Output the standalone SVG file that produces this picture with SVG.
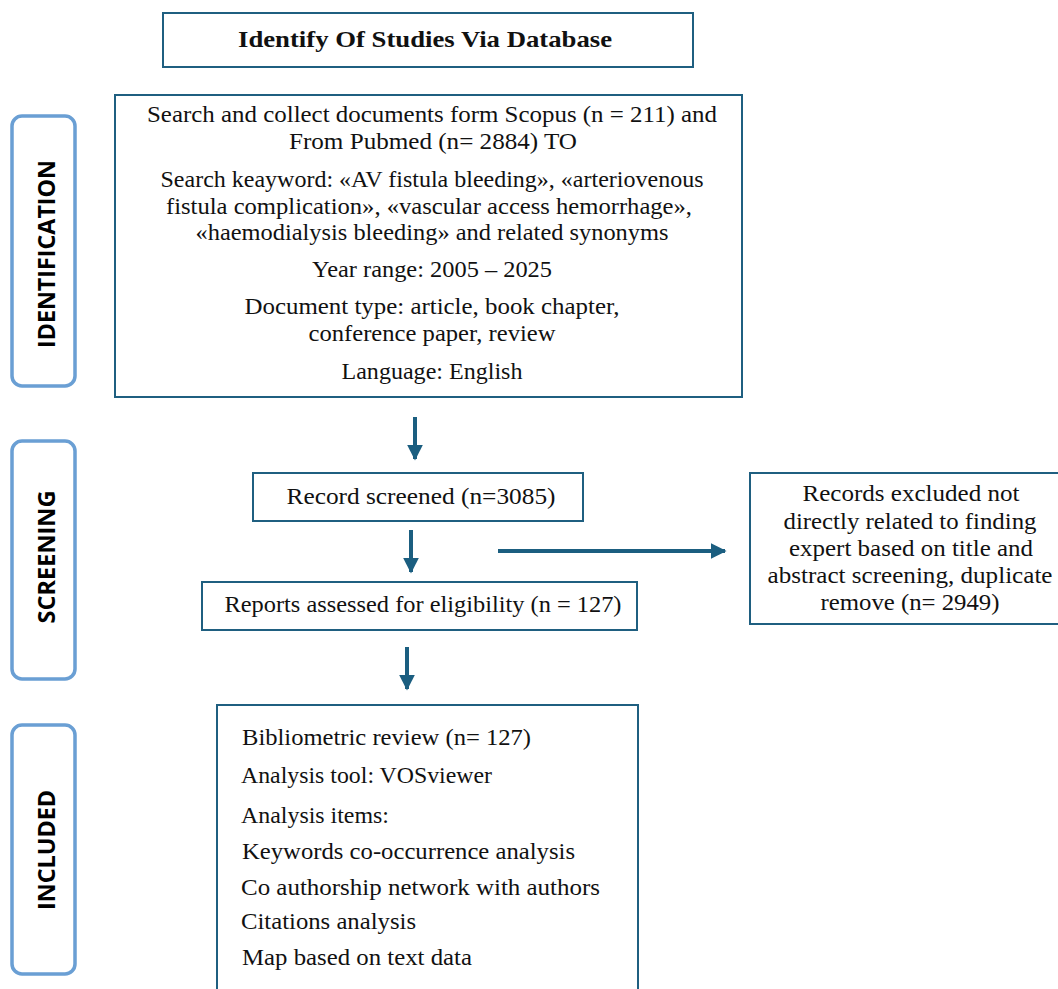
<svg xmlns="http://www.w3.org/2000/svg" width="1058" height="989" viewBox="0 0 1058 989">
<defs>
<style>
.box{fill:#fff;stroke:#1f5f80;stroke-width:2}
.tab{fill:#fff;stroke:#6a9fd4;stroke-width:3.5}
.t{font-family:"Liberation Serif","Times New Roman",serif;font-size:22.5px;fill:#111}
.c{text-anchor:middle}
.tt{font-family:"Open Sans","DejaVu Sans",sans-serif;font-weight:bold;font-size:23px;fill:#000;text-anchor:middle}
.ar{stroke:#1b5e80;stroke-width:4;fill:none}
</style>
<marker id="ah" viewBox="0 0 10 10" refX="9" refY="5" markerWidth="4" markerHeight="4" markerUnits="strokeWidth" orient="auto">
<path d="M0,0 L10,5 L0,10 z" fill="#1b5e80"/>
</marker>
</defs>
<rect width="1058" height="989" fill="#fff"/>

<g id="tab-identification">
<rect class="tab" x="12" y="116" width="63" height="270" rx="10"/>
<text class="tt" transform="translate(55,254) rotate(-90)" textLength="188" lengthAdjust="spacingAndGlyphs">IDENTIFICATION</text>
</g>
<g id="tab-screening">
<rect class="tab" x="12" y="441" width="63" height="238" rx="10"/>
<text class="tt" transform="translate(55,557) rotate(-90)" textLength="133" lengthAdjust="spacingAndGlyphs">SCREENING</text>
</g>
<g id="tab-included">
<rect class="tab" x="12" y="725" width="63" height="249" rx="10"/>
<text class="tt" transform="translate(55,850) rotate(-90)" textLength="120" lengthAdjust="spacingAndGlyphs">INCLUDED</text>
</g>

<g id="node-title">
<rect class="box" x="163" y="13" width="530" height="54"/>
<text class="t c" x="425" y="47" font-weight="bold" textLength="374" lengthAdjust="spacingAndGlyphs">Identify Of Studies Via Database</text>
</g>

<g id="node-search">
<rect class="box" x="115" y="95" width="627" height="302"/>
<text class="t c" x="432" y="122" textLength="570" lengthAdjust="spacingAndGlyphs">Search and collect documents form Scopus (n = 211) and</text>
<text class="t c" x="433" y="149" textLength="288" lengthAdjust="spacingAndGlyphs">From Pubmed (n= 2884) TO</text>
<text class="t c" x="432" y="187" textLength="543" lengthAdjust="spacingAndGlyphs">Search keayword: «AV fistula bleeding», «arteriovenous</text>
<text class="t c" x="429" y="214" textLength="526" lengthAdjust="spacingAndGlyphs">fistula complication», «vascular access hemorrhage»,</text>
<text class="t c" x="432" y="240" textLength="473" lengthAdjust="spacingAndGlyphs">«haemodialysis bleeding» and related synonyms</text>
<text class="t c" x="432" y="277" textLength="240" lengthAdjust="spacingAndGlyphs">Year range: 2005 – 2025</text>
<text class="t c" x="432" y="314" textLength="375" lengthAdjust="spacingAndGlyphs">Document type: article, book chapter,</text>
<text class="t c" x="432" y="341" textLength="247" lengthAdjust="spacingAndGlyphs">conference paper, review</text>
<text class="t c" x="432" y="379" textLength="181" lengthAdjust="spacingAndGlyphs">Language: English</text>
</g>

<g id="node-screened">
<rect class="box" x="253" y="473" width="330" height="48"/>
<text class="t c" x="421" y="504" textLength="269" lengthAdjust="spacingAndGlyphs">Record screened (n=3085)</text>
</g>

<g id="node-reports">
<rect class="box" x="202" y="582" width="435" height="48"/>
<text class="t c" x="423" y="612" textLength="397" lengthAdjust="spacingAndGlyphs">Reports assessed for eligibility (n = 127)</text>
</g>

<g id="node-excluded">
<rect class="box" x="750" y="473" width="320" height="151"/>
<text class="t c" x="911" y="501" textLength="217" lengthAdjust="spacingAndGlyphs">Records excluded not</text>
<text class="t c" x="910" y="529" textLength="253" lengthAdjust="spacingAndGlyphs">directly related to finding</text>
<text class="t c" x="911" y="556" textLength="244" lengthAdjust="spacingAndGlyphs">expert based on title and</text>
<text class="t c" x="910" y="583" textLength="285" lengthAdjust="spacingAndGlyphs">abstract screening, duplicate</text>
<text class="t c" x="910" y="610" textLength="179" lengthAdjust="spacingAndGlyphs">remove (n= 2949)</text>
</g>

<g id="node-included">
<rect class="box" x="217" y="705" width="421" height="300"/>
<text class="t" x="242" y="745" textLength="289" lengthAdjust="spacingAndGlyphs">Bibliometric review (n= 127)</text>
<text class="t" x="241" y="783" textLength="251" lengthAdjust="spacingAndGlyphs">Analysis tool: VOSviewer</text>
<text class="t" x="241" y="823" textLength="148" lengthAdjust="spacingAndGlyphs">Analysis items:</text>
<text class="t" x="242" y="859" textLength="333" lengthAdjust="spacingAndGlyphs">Keywords co-occurrence analysis</text>
<text class="t" x="241" y="895" textLength="359" lengthAdjust="spacingAndGlyphs">Co authorship network with authors</text>
<text class="t" x="241" y="929" textLength="175" lengthAdjust="spacingAndGlyphs">Citations analysis</text>
<text class="t" x="242" y="965" textLength="230" lengthAdjust="spacingAndGlyphs">Map based on text data</text>
</g>

<g id="connectors">
<line class="ar" x1="415" y1="417" x2="415" y2="459" marker-end="url(#ah)"/>
<line class="ar" x1="411" y1="530" x2="411" y2="572" marker-end="url(#ah)"/>
<line class="ar" x1="407" y1="647" x2="407" y2="689" marker-end="url(#ah)"/>
<line class="ar" x1="498" y1="551" x2="725" y2="551" marker-end="url(#ah)"/>
</g>
</svg>
